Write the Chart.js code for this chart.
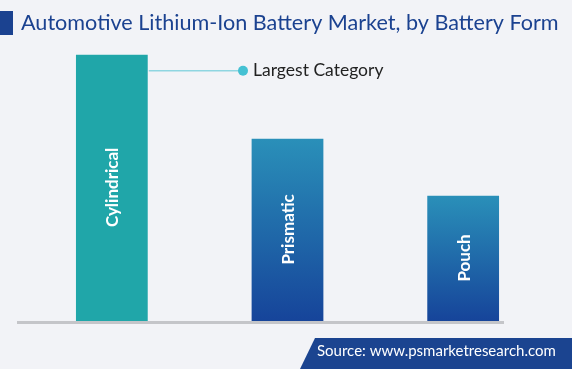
<!DOCTYPE html>
<html lang="en">
<head>
  <meta charset="UTF-8">
  <title>Automotive Lithium-Ion Battery Market, by Battery Form</title>
  <script src="https://cdn.jsdelivr.net/npm/chart.js"></script>
  <style>
    html, body { margin: 0; padding: 0; background: #f2f3f7; }
    #chart { display: block; }
  </style>
</head>
<body>
  <canvas id="chart" width="572" height="369"></canvas>
  <script>
    // data (share of market, %)
    const categories = ['Cylindrical', 'Prismatic', 'Pouch'];
    const shares = [46.4, 31.8, 21.9];
    const titleText = 'Automotive Lithium-Ion Battery Market, by Battery Form';
    const calloutText = 'Largest Category';
    const sourceText = 'Source: www.psmarketresearch.com';

    const ctx = document.getElementById('chart').getContext('2d');

    function barFill(context) {
      const chart = context.chart;
      const area = chart.chartArea;
      const yScale = chart.scales.y;
      if (!area || !yScale) return '#1d6fae';
      if (context.dataIndex === 0) return '#20a6a9';
      const top = yScale.getPixelForValue(shares[context.dataIndex]);
      if (!isFinite(top)) return '#1d6fae';
      const g = chart.ctx.createLinearGradient(0, top, 0, area.bottom);
      g.addColorStop(0, '#2a90b9');
      g.addColorStop(1, '#16449a');
      return g;
    }

    // title, baseline, inner labels, callout and source tag
    const decorations = {
      id: 'decorations',
      beforeDatasetsDraw(chart) {
        const c = chart.ctx;
        const area = chart.chartArea;
        c.save();
        c.fillStyle = '#c4c5c9';
        c.fillRect(17, area.bottom, 487, 3);
        c.restore();
      },
      afterDatasetsDraw(chart) {
        const c = chart.ctx;
        const bars = chart.getDatasetMeta(0).data;
        c.save();
        // title
        c.fillStyle = '#1b4290';
        c.fillRect(0, 11, 13, 24);
        c.font = '21.6px Lato';
        c.textBaseline = 'middle';
        c.textAlign = 'left';
        c.fillText(titleText, 21, 23);

        // labels inside bars
        c.fillStyle = '#ffffff';
        c.font = 'bold 17px Lato';
        c.textAlign = 'center';
        bars.forEach((bar, i) => {
          c.save();
          c.translate(bar.x, (bar.y + bar.base) / 2);
          c.rotate(-Math.PI / 2);
          c.fillText(categories[i], 0, 1);
          c.restore();
        });

        // callout on largest bar
        const big = bars[0];
        const cy = big.y + 17;
        c.strokeStyle = '#8fd6e1';
        c.lineWidth = 1.5;
        c.beginPath();
        c.moveTo(big.x + big.width / 2, cy);
        c.lineTo(243, cy);
        c.stroke();
        c.fillStyle = '#45c1d3';
        c.beginPath();
        c.arc(243, cy, 5, 0, Math.PI * 2);
        c.fill();
        c.fillStyle = '#222222';
        c.font = '17.5px Lato';
        c.textAlign = 'left';
        c.fillText(calloutText, 253, cy);

        // source tag
        c.fillStyle = '#1b4490';
        c.beginPath();
        c.moveTo(315, 338);
        c.lineTo(572, 338);
        c.lineTo(572, 369);
        c.lineTo(300, 369);
        c.closePath();
        c.fill();
        c.fillStyle = '#ffffff';
        c.font = '15px Lato';
        c.fillText(sourceText, 317, 351);
        c.restore();
      }
    };

    new Chart(ctx, {
      type: 'bar',
      data: {
        labels: categories,
        datasets: [{
          data: shares,
          backgroundColor: barFill,
          borderColor: 'rgba(255,255,255,0.25)',
          borderWidth: 1,
          barPercentage: 0.42,
          categoryPercentage: 1
        }]
      },
      options: {
        responsive: false,
        animation: false,
        layout: { padding: { left: 24, right: 21, top: 33, bottom: 48 } },
        scales: {
          x: { display: false },
          y: { display: false, min: 0, max: 50 }
        },
        plugins: {
          legend: { display: false },
          tooltip: { enabled: false }
        }
      },
      plugins: [decorations]
    });
  </script>
</body>
</html>
